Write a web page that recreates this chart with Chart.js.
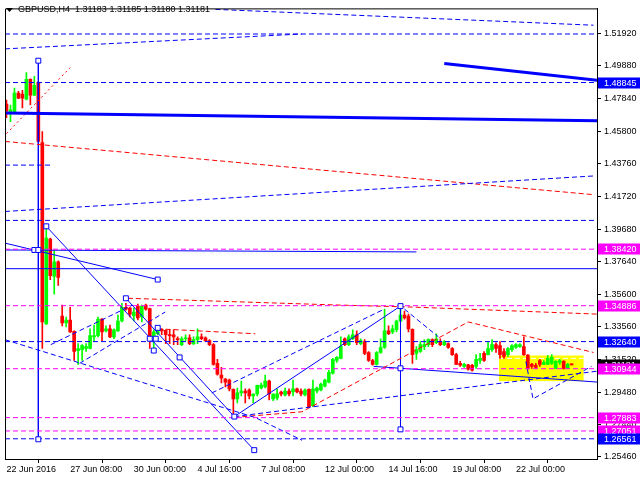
<!DOCTYPE html>
<html><head><meta charset="utf-8">
<script src="https://cdn.jsdelivr.net/npm/chart.js@4.4.0/dist/chart.umd.min.js"></script>
<style>html,body{margin:0;padding:0;background:#fff}</style>
</head><body>
<canvas id="c" width="640" height="480"></canvas>
<script>
// ---- candle data (H4 bars, index 0 = first visible bar) ----
const opens = [1.4750,1.4701,1.4694,1.4818,1.4812,1.4781,1.4904,1.4805,1.4886,1.4509,
1.3375,1.3905,1.3671,1.3763,1.3424,1.3381,1.3399,1.3328,1.3208,1.3214,
1.3221,1.3221,1.3294,1.3301,1.3405,1.3331,1.3344,1.3294,1.3331,1.3393,
1.3479,1.3473,1.3424,1.3486,1.3418,1.3492,1.3470,1.3294,1.3313,1.3341,
1.3335,1.3307,1.3307,1.3282,1.3245,1.3282,1.3288,1.3251,1.3276,1.3294,
1.3288,1.3270,1.3245,1.3128,1.3054,1.3029,1.3023,1.2965,1.2906,1.2943,
1.2955,1.2961,1.2924,1.2937,1.2974,1.2980,1.3017,1.2906,1.2912,1.2949,
1.2931,1.2955,1.2949,1.2968,1.2955,1.2931,1.2965,1.2863,1.2955,1.2961,
1.2986,1.3011,1.3066,1.3146,1.3159,1.3282,1.3245,1.3282,1.3307,1.3251,
1.3264,1.3196,1.3146,1.3122,1.3196,1.3227,1.3331,1.3325,1.3338,1.3393,
1.3430,1.3424,1.3341,1.3190,1.3202,1.3233,1.3245,1.3276,1.3257,1.3264,
1.3245,1.3251,1.3221,1.3183,1.3128,1.3109,1.3119,1.3116,1.3109,1.3146,
1.3190,1.3183,1.3214,1.3245,1.3239,1.3202,1.3183,1.3214,1.3227,1.3233,
1.3233,1.3180,1.3122,1.3116,1.3146,1.3122,1.3122,1.3128,1.3097,1.3134,
1.3140,1.3097,1.31183];
const highs = [1.4775,1.4744,1.4849,1.4830,1.4836,1.4947,1.4908,1.4923,1.4890,1.4577,
1.3980,1.3911,1.3831,1.3769,1.3492,1.3418,1.3479,1.3331,1.3251,1.3245,
1.3251,1.3344,1.3368,1.3418,1.3408,1.3362,1.3368,1.3344,1.3430,1.3504,
1.3504,1.3479,1.3473,1.3498,1.3492,1.3498,1.3473,1.3338,1.3344,1.3344,
1.3338,1.3338,1.3338,1.3294,1.3294,1.3307,1.3307,1.3294,1.3344,1.3313,
1.3294,1.3276,1.3251,1.3153,1.3103,1.3035,1.3029,1.2968,1.2974,1.3017,
1.2968,1.2968,1.2937,1.2992,1.3005,1.3054,1.3023,1.2937,1.2968,1.2955,
1.2974,1.2968,1.3023,1.2974,1.2968,1.2968,1.2968,1.3023,1.2980,1.3005,
1.3029,1.3085,1.3159,1.3171,1.3294,1.3288,1.3307,1.3338,1.3331,1.3282,
1.3276,1.3202,1.3153,1.3202,1.3282,1.3467,1.3362,1.3368,1.3399,1.3492,
1.3455,1.3436,1.3344,1.3233,1.3264,1.3276,1.3282,1.3282,1.3313,1.3282,
1.3270,1.3257,1.3227,1.3190,1.3140,1.3128,1.3122,1.3122,1.3183,1.3190,
1.3202,1.3264,1.3276,1.3257,1.3264,1.3221,1.3227,1.3245,1.3251,1.3251,
1.3294,1.3183,1.3128,1.3128,1.3153,1.3146,1.3177,1.3183,1.3146,1.3153,
1.3146,1.3128,1.31185];
const lows = [1.4664,1.4639,1.4690,1.4784,1.4725,1.4775,1.4744,1.4802,1.4512,1.3221,
1.3372,1.3652,1.3560,1.3615,1.3362,1.3356,1.3322,1.3146,1.3122,1.3146,
1.3202,1.3218,1.3264,1.3294,1.3270,1.3325,1.3288,1.3282,1.3328,1.3387,
1.3461,1.3418,1.3393,1.3399,1.3387,1.3461,1.3221,1.3221,1.3307,1.3307,
1.3251,1.3251,1.3245,1.3245,1.3239,1.3270,1.3245,1.3245,1.3251,1.3276,
1.3264,1.3239,1.3116,1.3054,1.3005,1.2980,1.2955,1.2807,1.2881,1.2924,
1.2881,1.2906,1.2881,1.2924,1.2968,1.2974,1.2900,1.2894,1.2900,1.2924,
1.2924,1.2924,1.2924,1.2943,1.2924,1.2924,1.2850,1.2857,1.2943,1.2955,
1.2980,1.3005,1.3060,1.3134,1.3156,1.3239,1.3239,1.3276,1.3245,1.3245,
1.3183,1.3140,1.3116,1.3116,1.3190,1.3221,1.3307,1.3313,1.3325,1.3387,
1.3405,1.3325,1.3128,1.3153,1.3196,1.3214,1.3233,1.3233,1.3251,1.3239,
1.3239,1.3221,1.3177,1.3119,1.3109,1.3103,1.3085,1.3079,1.3097,1.3128,
1.3140,1.3180,1.3202,1.3196,1.3159,1.3159,1.3171,1.3202,1.3221,1.3227,
1.3177,1.3091,1.3097,1.3097,1.3109,1.3119,1.3119,1.3122,1.3094,1.3122,
1.3091,1.3094,1.31180];
const closes = [1.4707,1.4713,1.4818,1.4787,1.4787,1.4904,1.4805,1.4867,1.4516,1.3387,
1.3911,1.3677,1.3763,1.3665,1.3381,1.3399,1.3325,1.3202,1.3221,1.3239,
1.3233,1.3301,1.3301,1.3405,1.3325,1.3344,1.3294,1.3338,1.3393,1.3479,
1.3467,1.3436,1.3449,1.3412,1.3486,1.3467,1.3288,1.3325,1.3338,1.3331,
1.3307,1.3301,1.3294,1.3276,1.3282,1.3288,1.3251,1.3276,1.3294,1.3282,
1.3270,1.3245,1.3122,1.3060,1.3035,1.3011,1.2968,1.2906,1.2943,1.2955,
1.2943,1.2924,1.2935,1.2990,1.2992,1.3017,1.2937,1.2935,1.2937,1.2937,
1.2955,1.2937,1.2968,1.2949,1.2937,1.2961,1.2857,1.2968,1.2974,1.2998,
1.3023,1.3072,1.3153,1.3165,1.3233,1.3245,1.3294,1.3307,1.3257,1.3270,
1.3190,1.3146,1.3122,1.3196,1.3227,1.3331,1.3313,1.3344,1.3393,1.3430,
1.3412,1.3344,1.3183,1.3214,1.3245,1.3245,1.3276,1.3245,1.3282,1.3245,
1.3264,1.3227,1.3183,1.3122,1.3116,1.3122,1.3091,1.3085,1.3153,1.3159,
1.3146,1.3221,1.3245,1.3221,1.3183,1.3171,1.3221,1.3239,1.3245,1.3245,
1.3183,1.3097,1.3109,1.3103,1.3122,1.3134,1.3159,1.3165,1.3140,1.3146,
1.3097,1.3122,1.31181];

// ---- axes ----
const xTickBars = [0,16,32,48,64,80,96,112,128];
const xTickLabels = ['22 Jun 2016','27 Jun 08:00','30 Jun 00:00','4 Jul 16:00','7 Jul 08:00','12 Jul 00:00','14 Jul 16:00','19 Jul 08:00','22 Jul 00:00'];
const yTickValues = [1.51920,1.49880,1.47840,1.45800,1.43760,1.41720,1.39680,1.37640,1.35600,1.33560,1.31520,1.29480,1.27440,1.25460];
const titleText = 'GBPUSD,H4  1.31183 1.31185 1.31180 1.31181';

// ---- levels & drawn objects (bar index, price) ----
const magentaLevels = [1.38420,1.34886,1.30944,1.27883,1.27051];
const blueDashLevels = [1.5188,1.48845,1.4022,1.32640,1.26561];
const blueSolidLevels = [1.3720];
const blueDashTop1 = [[-0.375,1.5095],[74.25,1.5188]];
const blueDashTop2 = [[52.5,1.5342],[147.5,1.5243]];
const blueDashShort = [[-0.375,1.4368],[11,1.4368]];
const blueDashRise = [[-0.375,1.4078],[147.5,1.4300]];
const thickBlue1 = [[-0.375,1.4694],[148.4,1.4645]];
const thickBlue2 = [[110,1.5003],[148.4,1.4898]];
const redDot1 = [[0,1.4565],[16,1.4978]];
const redDash1 = [[-0.375,1.4516],[147.5,1.4183]];
const redDashTop = [[30.5,1.3535],[84.25,1.3492],[102,1.3480],[148.4,1.3436]];
const redDashWedge = [[57.25,1.2790],[74.25,1.2825],[116,1.3387],[147.5,1.3196]];
const redDashShort = [[38,1.3344],[62.5,1.3313]];
const blueLineA = [[-0.375,1.3880],[38,1.3652]];
const blueLineB = [[-0.375,1.3837],[103,1.3825]];
const blueDiag1 = [[10,1.3985],[62.25,1.2585]];
const blueDiag2 = [[30,1.3535],[57.25,1.2795]];
const blueUp = [[57.25,1.2795],[99,1.3486]];
const blueFlat = [[92.25,1.3109],[148.4,1.3011]];
const vertical1 = [[8,1.5021],[8,1.2653]];
const vertical2 = [[99,1.3486],[99,1.2715]];
const channelUp1 = [[11.125,1.3245],[31.625,1.3492]];
const channelUp2 = [[18.375,1.3128],[39.875,1.3449]];
const lowerDash = [[-0.375,1.3276],[62.5,1.2789],[74.25,1.2647]];
const lowRise = [[57.25,1.2795],[148.4,1.3079]];
const upperChannel = [[51.6,1.2943],[94.9,1.3467]];
const forecastPath = [[130.5,1.3140],[132.3,1.2906],[147,1.3109]];
const pullbackDash = [[100,1.3467],[108.5,1.3294]];
const zoneMid = [[123.75,1.3159],[145,1.3159]];
const anchorBoxes = [[10,1.3985],[30,1.3535],[43.5,1.3165],[57.25,1.2795],[62.25,1.2585],[38,1.3652],[7,1.3837],[8,1.3837],[8,1.5021],[8,1.2653],[99,1.3486],[99,1.3097],[99,1.2715],[36,1.3282],[37.5,1.3282],[37,1.3208],[38,1.3350]];
const zoneBars = [123.75,145];
const zonePrices = [1.3177,1.3017];
const priceTags = [1.48845,1.38420,1.34886,1.32640,1.31181,1.30944,1.27883,1.27051,1.26561];
const priceTagKinds = ['b','m','m','b','k','m','m','m','b'];

// ---- build datasets ----
const X0 = -0.375, X1 = 148.375;
const BLUE = '#0000ff', MAG = '#ff00ff', RED = '#ff0000', GRN = '#00ff00';
const DASH = [5,3];
const idx = opens.map((_, i) => i);
const bull = idx.filter(i => closes[i] >= opens[i]);
const bear = idx.filter(i => closes[i] < opens[i]);
function bars(list, lo, hi, color, w, order) {
  return {type:'bar', data: list.map(i => ({x:i, y:[lo[i], hi[i]]})), backgroundColor: color,
    barThickness: w, grouped:false, minBarLength:1, order: order, borderWidth:0};
}
function seg(points, color, width, dash, order) {
  return {type:'line', data: points.map(p => ({x:p[0], y:p[1]})), borderColor: color, borderWidth: width,
    borderDash: dash || [], pointRadius:0, fill:false, tension:0, order: order === undefined ? 2 : order};
}
const datasets = [
  bars(bull, lows, highs, GRN, 1, 30), bars(bull, opens, closes, GRN, 3, 29),
  bars(bear, lows, highs, RED, 1, 30), bars(bear, closes, opens, RED, 3, 29),
  seg(zoneMid, '#ffffff', 1, DASH, 31)
];
magentaLevels.forEach(v => datasets.push(seg([[X0,v],[X1,v]], MAG, 1, DASH)));
blueDashLevels.forEach(v => datasets.push(seg([[X0,v],[X1,v]], BLUE, 1, DASH)));
blueSolidLevels.forEach(v => datasets.push(seg([[X0,v],[X1,v]], BLUE, 1)));
[blueDashTop1, blueDashTop2, blueDashShort, blueDashRise, channelUp1, channelUp2, lowerDash, lowRise, upperChannel, forecastPath, pullbackDash].forEach(l => datasets.push(seg(l, BLUE, 1, DASH)));
[thickBlue1, thickBlue2].forEach(l => datasets.push(seg(l, BLUE, 3)));
datasets.push(seg(redDot1, RED, 1, [2,3]));
[redDash1, redDashTop, redDashWedge, redDashShort].forEach(l => datasets.push(seg(l, RED, 1, DASH)));
[blueLineA, blueLineB, blueDiag1, blueDiag2, blueUp, blueFlat, vertical1, vertical2].forEach(l => datasets.push(seg(l, BLUE, 1)));
datasets.push({type:'line', data: anchorBoxes.map(p => ({x:p[0], y:p[1]})), showLine:false,
  pointStyle:'rect', pointRadius:3.5, pointBackgroundColor:'#fff', pointBorderColor: BLUE, pointBorderWidth:1, order:0});

const FONT = {family:'"Liberation Sans", Arial, sans-serif', size:9};
const overlay = {
  id:'overlay',
  beforeDatasetsDraw(chart) {
    const {ctx, scales:{x, y}} = chart;
    const l = x.getPixelForValue(zoneBars[0]), r = x.getPixelForValue(zoneBars[1]);
    const t = y.getPixelForValue(zonePrices[0]), b = y.getPixelForValue(zonePrices[1]);
    ctx.save(); ctx.fillStyle = '#ffff00'; ctx.fillRect(l, t, r - l, b - t); ctx.restore();
  },
  afterDraw(chart) {
    const {ctx, chartArea:a, scales:{y}} = chart;
    ctx.save();
    ctx.strokeStyle = '#000'; ctx.lineWidth = 1;
    ctx.beginPath(); ctx.moveTo(a.left + 0.5, a.bottom); ctx.lineTo(a.left + 0.5, a.top + 0.5); ctx.lineTo(a.right, a.top + 0.5); ctx.stroke();
    ctx.fillStyle = '#000';
    ctx.beginPath(); ctx.moveTo(6, 8); ctx.lineTo(13, 8); ctx.lineTo(9.5, 12); ctx.closePath(); ctx.fill();
    ctx.font = '9px "Liberation Sans", Arial, sans-serif';
    ctx.textBaseline = 'middle'; ctx.textAlign = 'left';
    ctx.fillText(titleText, 18, 10);
    const colors = {b: BLUE, m: MAG, k: '#000'};
    priceTags.forEach((v, i) => {
      const py = Math.round(y.getPixelForValue(v));
      ctx.fillStyle = colors[priceTagKinds[i]];
      ctx.fillRect(a.right + 1, py - 5.5, 640 - a.right, 11);
      ctx.fillStyle = '#fff';
      ctx.fillText(v.toFixed(5), a.right + 7, py + 0.5);
    });
    ctx.restore();
  }
};

new Chart(document.getElementById('c'), {
  data: {datasets},
  plugins: [overlay],
  options: {
    responsive:false, animation:false, devicePixelRatio:1,
    layout: {padding: {left:2, top:2, right:0, bottom:0}},
    plugins: {legend:{display:false}, tooltip:{enabled:false}},
    scales: {
      x: {type:'linear', position:'bottom', min:X0, max:X1, offset:false,
        afterBuildTicks: s => { s.ticks = xTickBars.map(v => ({value:v})); },
        afterFit: s => { s.height = 21; },
        ticks: {autoSkip:false, maxRotation:0, align:'start', padding:1, color:'#000', font:FONT,
          callback: v => xTickLabels[xTickBars.indexOf(v)]},
        grid: {drawOnChartArea:false, drawTicks:true, tickLength:4, color:'#000'},
        border: {display:true, color:'#000'}},
      y: {type:'linear', position:'right', min:1.25297, max:1.53481,
        afterBuildTicks: s => { s.ticks = yTickValues.map(v => ({value:v})); },
        afterFit: s => { s.width = 43; },
        ticks: {autoSkip:false, padding:3, color:'#000', font:FONT, callback: v => v.toFixed(5)},
        grid: {drawOnChartArea:false, drawTicks:true, tickLength:4, color:'#000'},
        border: {display:true, color:'#000'}}
    }
  }
});
</script>
</body></html>
